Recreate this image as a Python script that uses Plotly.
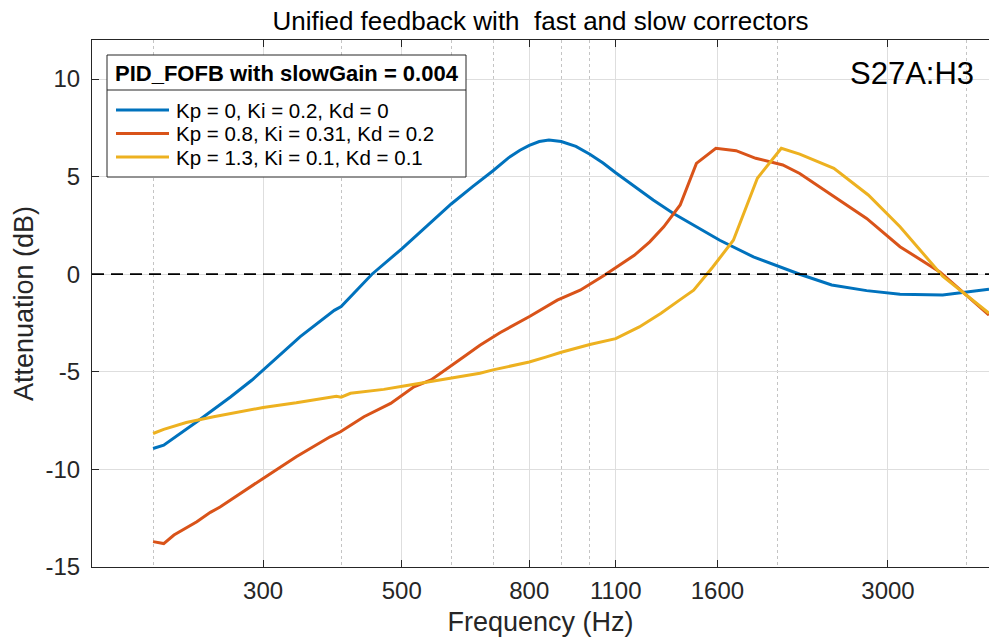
import plotly.graph_objects as go
import numpy as np

# ---- data ----
blue_freq = [200, 208, 235, 266, 288, 300, 344, 390, 400, 448, 500, 550, 600, 650, 700, 740, 773, 800, 830,
             860, 900, 950, 1000, 1050, 1100, 1263, 1361, 1614, 1827, 2167, 2438, 2773, 3136, 3670, 4000, 4353]
blue_db = [-8.93, -8.76, -7.56, -6.29, -5.42, -4.9, -3.2, -1.85, -1.65, 0.0, 1.3, 2.5, 3.6, 4.5, 5.3, 5.95, 6.35,
           6.6, 6.8, 6.87, 6.8, 6.55, 6.15, 5.7, 5.2, 3.8, 3.11, 1.74, 0.89, 0.0, -0.55, -0.84, -1.03, -1.07,
           -0.9, -0.77]

orange_freq = [200, 208, 216, 235, 247, 256, 300, 339, 384, 399, 435, 480, 523, 557, 627, 667, 718, 802,
               887, 965, 1055, 1178, 1247, 1313, 1395, 1481, 1591, 1714, 1843, 1940, 2036, 2167, 2438,
               2773, 3136, 3632, 4353]
orange_db = [-13.7, -13.8, -13.36, -12.68, -12.2, -11.93, -10.46, -9.35, -8.33, -8.07, -7.3, -6.62, -5.77,
             -5.42, -4.25, -3.64, -3.0, -2.15, -1.33, -0.82, -0.05, 0.97, 1.66, 2.43, 3.55, 5.68, 6.45, 6.33,
             5.94, 5.77, 5.6, 5.16, 4.06, 2.86, 1.41, 0.12, -2.09]

yellow_freq = [200, 208, 226, 250, 300, 339, 393, 400, 414, 468, 504, 557, 667, 700, 800, 850, 900, 1000,
               1100, 1200, 1300, 1395, 1466, 1573, 1697, 1854, 2025, 2167, 2458, 2790, 3136, 3670, 4353]
yellow_db = [-8.16, -7.95, -7.6, -7.3, -6.83, -6.59, -6.25, -6.3, -6.1, -5.9, -5.73, -5.5, -5.07, -4.9, -4.5,
             -4.25, -4.0, -3.6, -3.3, -2.7, -2.0, -1.3, -0.82, 0.37, 1.74, 4.92, 6.45, 6.15, 5.43, 4.06, 2.43,
             -0.1, -2.0]

series_names = ["Kp = 0, Ki = 0.2, Kd = 0",
                "Kp = 0.8, Ki = 0.31, Kd = 0.2",
                "Kp = 1.3, Ki = 0.1, Kd = 0.1"]
series_colors = ["#0072BD", "#D95319", "#EDB120"]
legend_title = "PID_FOFB with slowGain = 0.004"

x_tick_vals = [300, 500, 800, 1100, 1600, 3000]
x_tick_text = ["300", "500", "800", "1100", "1600", "3000"]
x_minor_vals = [200, 400, 600, 700, 900, 1000, 2000, 4000]
y_tick_vals = [-15, -10, -5, 0, 5, 10]
y_tick_text = ["-15", "-10", "-5", "0", "5", "10"]
x_limits = [159.7, 4353]
y_limits = [-15, 12]

FONT = "Liberation Sans, Arial, sans-serif"
AX = "#262626"

# plot-area geometry (pixels) used to place the hand-drawn legend box
PL, PR, PT, PB = 92, 989, 40, 567


def px(x):
    return (x - PL) / (PR - PL)


def py(y):
    return (PB - y) / (PB - PT)


fig = go.Figure()
for fx, fy, name, col in zip([blue_freq, orange_freq, yellow_freq],
                             [blue_db, orange_db, yellow_db],
                             series_names, series_colors):
    fig.add_trace(go.Scatter(x=fx, y=fy, mode="lines", name=name, showlegend=False,
                             line=dict(color=col, width=3)))

fig.add_shape(type="line", xref="paper", x0=0, x1=1, yref="y", y0=0, y1=0,
              line=dict(color="black", width=1.8, dash="12px,7px"), layer="above")

# legend box (MATLAB-style, with title separator)
LX0, LX1, LY0, LY1 = 107, 466, 55, 177
fig.add_shape(type="rect", xref="paper", yref="paper", x0=px(LX0), x1=px(LX1), y0=py(LY1), y1=py(LY0),
              fillcolor="white", line=dict(color=AX, width=1), layer="above")
fig.add_shape(type="line", xref="paper", yref="paper", x0=px(LX0), x1=px(LX1), y0=py(90), y1=py(90),
              line=dict(color=AX, width=1), layer="above")
fig.add_annotation(text="<b>" + legend_title + "</b>", x=px((LX0 + LX1) / 2), y=py(73),
                   xref="paper", yref="paper", showarrow=False, xanchor="center", yanchor="middle",
                   font=dict(size=22, color="black", family=FONT))
for i, (name, col) in enumerate(zip(series_names, series_colors)):
    yy = 110 + 23.5 * i
    fig.add_shape(type="line", xref="paper", yref="paper", x0=px(116), x1=px(169), y0=py(yy), y1=py(yy),
                  line=dict(color=col, width=3), layer="above")
    fig.add_annotation(text=name, x=px(174), y=py(yy), xref="paper", yref="paper", showarrow=False,
                       xanchor="left", yanchor="middle", font=dict(size=20.5, color="black", family=FONT))

fig.update_layout(
    width=989, height=640,
    margin=dict(l=PL, r=989 - PR, t=PT, b=640 - PB),
    paper_bgcolor="white", plot_bgcolor="white",
    font=dict(family=FONT, color="#262626"),
    showlegend=False,
    title=dict(text="Unified feedback with\u00a0 fast and slow correctors",
               x=0.5, xref="paper", xanchor="center",
               y=1 - 21 / 640, yref="container", yanchor="middle",
               font=dict(size=26, color="black", family=FONT)),
    xaxis=dict(type="log", range=[np.log10(x_limits[0]), np.log10(x_limits[1])],
               tickmode="array", tickvals=x_tick_vals, ticktext=x_tick_text,
               ticks="inside", ticklen=7, tickcolor=AX, tickwidth=1,
               showline=True, linecolor=AX, linewidth=1, mirror="ticks",
               showgrid=True, gridcolor="#dedede", gridwidth=1, zeroline=False,
               minor=dict(tickmode="array", tickvals=x_minor_vals, showgrid=True,
                          griddash="dot", gridcolor="#c4c4c4", gridwidth=1, ticks=""),
               tickfont=dict(size=24, color="#262626"), ticklabelstandoff=2,
               title=dict(text="Frequency (Hz)", font=dict(size=27, color="#262626"), standoff=9)),
    yaxis=dict(range=y_limits, tickmode="array", tickvals=y_tick_vals, ticktext=y_tick_text,
               ticks="inside", ticklen=7, tickcolor=AX, tickwidth=1,
               showline=True, linecolor=AX, linewidth=1, mirror=False,
               showgrid=True, gridcolor="#dedede", gridwidth=1, zeroline=False,
               tickfont=dict(size=24, color="#262626"), ticklabelstandoff=6,
               title=dict(text="Attenuation (dB)", font=dict(size=27, color="#262626"), standoff=4)),
)

fig.add_annotation(text="S27A:H3", x=px(912), y=py(73),
                   xref="paper", yref="paper", showarrow=False,
                   font=dict(size=31, color="black", family=FONT),
                   xanchor="center", yanchor="middle")

fig.write_html("out.html")
